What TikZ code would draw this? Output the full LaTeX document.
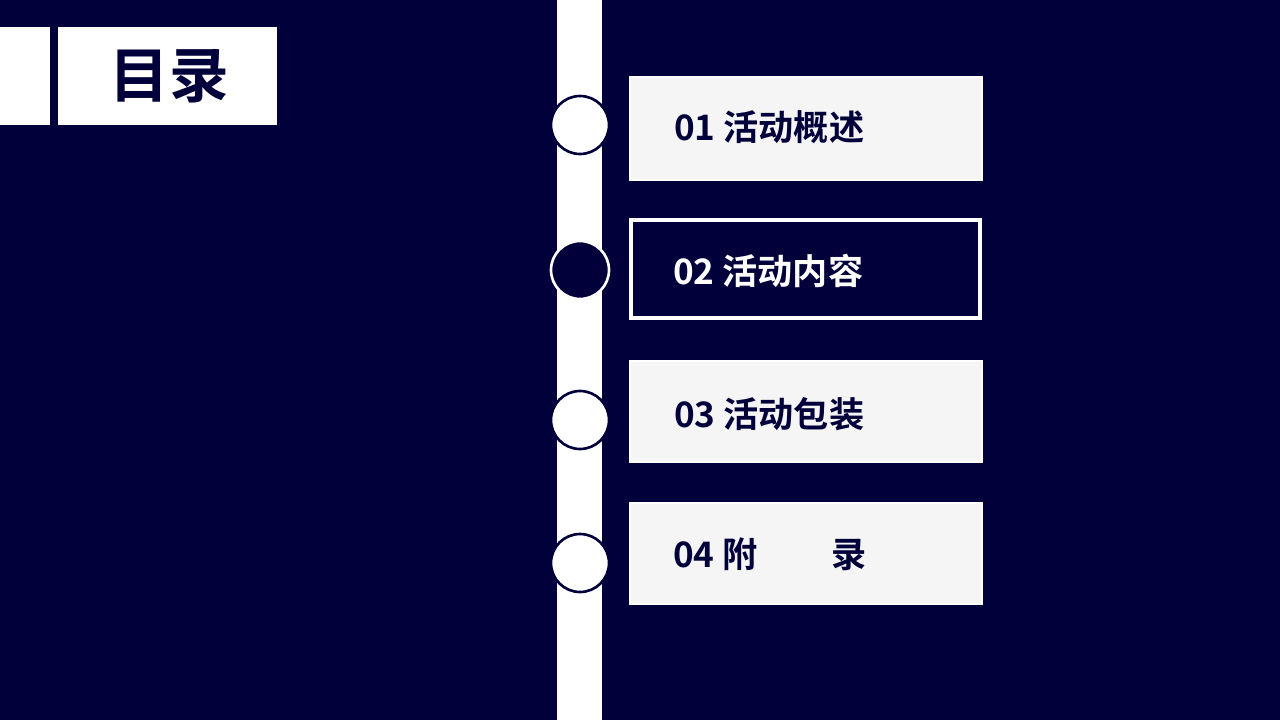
\documentclass[tikz,border=0pt]{standalone}
\usepackage{fontspec}
\newfontfamily\cjk{Noto Sans CJK SC Bold}
\definecolor{navy}{HTML}{02003A}
\definecolor{lgray}{HTML}{F5F5F5}
\begin{document}
\begin{tikzpicture}[x=0.02cm,y=-0.02cm,
  item/.style={anchor=west,font=\cjk\fontsize{20}{24}\selectfont},
  whitebox/.style={fill=lgray,draw=white,line width=1pt},
  dot/.style={circle,minimum size=1.16cm,inner sep=0pt,line width=1.5pt}]
\fill[navy] (0,0) rectangle (1280,720);
\useasboundingbox (0,0) rectangle (1280,720);
\fill[white] (0,27) rectangle (50,125);
\fill[white] (58,27) rectangle (277,125);
\node[font=\cjk\fontsize{34}{40}\selectfont,text=navy] (title) at (169,76) {目录};
\fill[white] (557,0) rectangle (602,720);
\node[dot,fill=white,draw=navy] (c1) at (580,125) {};
\node[dot,fill=navy,draw=white] (c2) at (580,270) {};
\node[dot,fill=white,draw=navy] (c3) at (580,420) {};
\node[dot,fill=white,draw=navy] (c4) at (580,563) {};
\draw[whitebox] (630,77) rectangle (982,180);
\draw[fill=navy,draw=white,line width=2pt] (631,220) rectangle (980,318);
\draw[whitebox] (630,361) rectangle (982,462);
\draw[whitebox] (630,503) rectangle (982,604);
\node[item,text=navy] (t1) at (668,127) {01 活动概述};
\node[item,text=white] (t2) at (667,271) {02 活动内容};
\node[item,text=navy] (t3) at (668,414) {03 活动包装};
\node[item,text=navy] (t4) at (667,554) {04 附\hspace{2.1em}录};
\end{tikzpicture}
\end{document}
